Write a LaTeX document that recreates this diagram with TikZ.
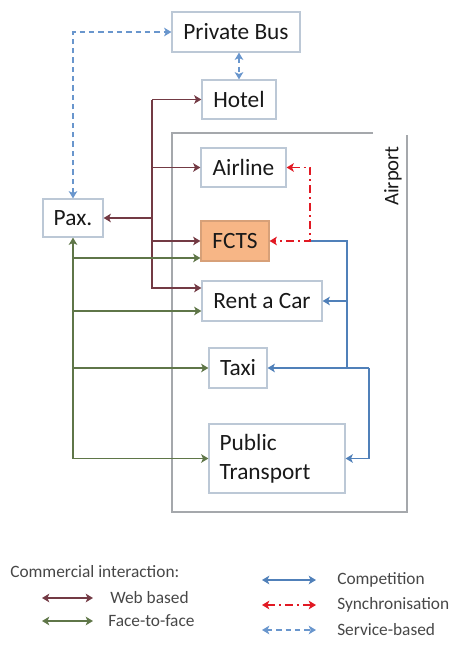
\documentclass[tikz,border=0pt]{standalone}
\usepackage{fontspec}
\setmainfont{Carlito}
\usepackage{tikz}
\usetikzlibrary{arrows.meta}
\definecolor{myblue}{RGB}{80,128,185}
\definecolor{mylightblue}{RGB}{105,150,205}
\definecolor{myred}{RGB}{225,25,35}
\definecolor{mybrown}{RGB}{115,58,68}
\definecolor{mygreen}{RGB}{95,118,72}
\definecolor{myorange}{RGB}{247,182,134}
\definecolor{myorangeline}{RGB}{215,160,120}
\definecolor{mygray}{RGB}{165,168,172}
\definecolor{myedge}{RGB}{188,200,214}
\definecolor{mytext}{RGB}{25,25,25}

\begin{document}
\begin{tikzpicture}[x=0.75pt,y=-0.75pt,>={Stealth[length=5.5pt,width=6.5pt,inset=1.5pt]},
          box/.style={draw=myedge,line width=0.9pt,inner sep=2pt,text=mytext,
                      font=\fontsize{17.5}{22}\selectfont},
          legend/.style={inner sep=0pt,text=black!72,font=\fontsize{13}{16}\selectfont},
          web/.style={draw=mybrown,line width=1.2pt},
          face/.style={draw=mygreen,line width=1.2pt},
          comp/.style={draw=myblue,line width=1.2pt},
          sync/.style={draw=myred,line width=1.3pt,dash pattern=on 6pt off 3pt on 1.5pt off 3pt},
          service/.style={draw=mylightblue,line width=1.1pt,dash pattern=on 4pt off 3pt}]
        \useasboundingbox (0,0) rectangle (454,646);
        \draw[mygray,line width=1pt] (373,133) -- (172,133) -- (172,512) -- (407,512) -- (407,135);
        \node[rotate=90,text=mytext,font=\fontsize{15.5}{18}\selectfont] (airport) at (393,176) {Airport};
        \node[box,minimum width=96pt,minimum height=30pt] (privbus) at (236,32) {Private Bus};
        \node[box,minimum width=55.5pt,minimum height=29.25pt] (hotel) at (239,99.5) {Hotel};
        \node[box,minimum width=63.75pt,minimum height=29.25pt] (airline) at (243.5,167.5) {Airline};
        \node[box,minimum width=45pt,minimum height=28.5pt] (pax) at (73,218) {Pax.};
        \node[box,fill=myorange,draw=myorangeline,minimum width=51pt,minimum height=30pt] (fcts) at (235,241) {FCTS};
        \node[box,minimum width=90pt,minimum height=30pt] (rentcar) at (262,301) {Rent a Car};
        \node[box,minimum width=43.5pt,minimum height=30pt] (taxi) at (238,368) {Taxi};
        \node[box,minimum width=102pt,minimum height=51.75pt,text width=86pt,
              align=left,inner xsep=8pt] (pubtrans) at (277,458.5) {Public\\Transport};
        \coordinate (wt) at (152,0);
        \coordinate (sync) at (310,0);
        \coordinate (cmp) at (347,0);
        \coordinate (cmp2) at (369,0);
        \coordinate (rcw) at ([yshift=9.75pt]rentcar.west);
        \coordinate (rcf) at ([yshift=-7.5pt]rentcar.west);
        \coordinate (fcf) at ([yshift=-12.75pt]fcts.west);
        \draw[service,<->] (pax.north) |- (privbus.west);
        \draw[service,<->] (privbus.south -| hotel.north) -- (hotel.north);
        \draw[web,->] (wt |- hotel) -- (hotel);
        \draw[web,->] (wt |- hotel) |- (rcw);
        \draw[web,->] (wt |- airline) -- (airline);
        \draw[web,->] (wt |- fcts) -- (fcts);
        \draw[web,->,line width=1.8pt] (wt |- pax) -- (pax);
        \draw[face,<->] (pax.south) |- (pubtrans);
        \draw[face,->] (pax.south |- fcf) -- (fcf);
        \draw[face,->] (pax.south |- rcf) -- (rcf);
        \draw[face,->] (pax.south |- taxi) -- (taxi);
        \draw[comp] (sync |- fcts) -- (cmp |- fcts) -- (cmp |- taxi);
        \draw[comp,->] (cmp |- rentcar) -- (rentcar);
        \draw[comp,->] (cmp2 |- taxi) -- (taxi);
        \draw[comp,->] (cmp2 |- taxi) |- (pubtrans);
        \draw[sync,<->] (airline.east) -- (sync |- airline) -- (sync |- fcts) -- (fcts.east);
        \node[legend,anchor=west] (lcomm) at (10,572) {Commercial interaction:};
        \node[legend,anchor=west] (lweb) at (110,598) {Web based};
        \node[legend,anchor=west] (lface) at (108,621) {Face-to-face};
        \node[legend,anchor=west] (lcomp) at (337,580) {Competition};
        \node[legend,anchor=west] (lsync) at (337,605) {Synchronisation};
        \node[legend,anchor=west] (lserv) at (337,630) {Service-based};
        \draw[web,<->] ([xshift=-51pt]lweb.west) -- ([xshift=-12.75pt]lweb.west);
        \draw[face,<->] ([xshift=-49.5pt]lface.west) -- ([xshift=-11.25pt]lface.west);
        \draw[comp,<->] ([xshift=-56.25pt]lcomp.west) -- ([xshift=-15.75pt]lcomp.west);
        \draw[sync,<->] ([xshift=-56.25pt]lsync.west) -- ([xshift=-15.75pt]lsync.west);
        \draw[service,<->] ([xshift=-56.25pt]lserv.west) -- ([xshift=-15.75pt]lserv.west);
      \end{tikzpicture}
\end{document}
